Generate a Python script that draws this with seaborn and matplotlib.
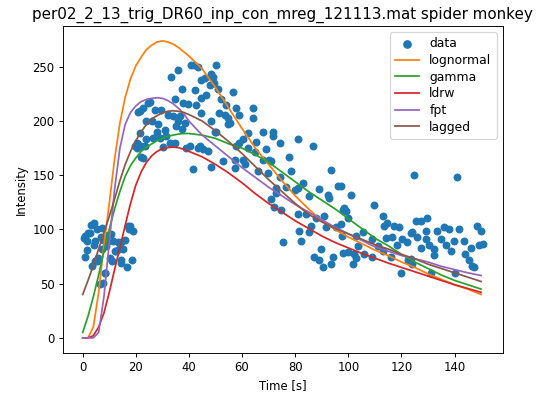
import matplotlib
matplotlib.use("Agg")
import matplotlib.pyplot as plt
import seaborn as sns
import pandas as pd

time_s = [0.6, 0.9, 0.9, 1.5, 1.6, 2.0, 2.8, 3.2, 3.4, 4.2, 4.4, 4.7, 4.8, 5.2, 5.3, 5.9,
          6.4, 6.8, 7.1, 7.2, 7.8, 7.8, 8.3, 8.4, 8.8, 9.2, 9.6, 10.2, 10.6, 11.1, 11.5,
          12.0, 12.7, 13.3, 13.5, 14.3, 14.6, 14.6, 15.2, 15.9, 16.5, 17.2, 17.6, 17.8,
          18.4, 19.0, 19.5, 20.3, 20.3, 20.9, 21.5, 21.5, 22.1, 22.1, 22.8, 22.8, 23.4,
          24.0, 24.0, 24.7, 25.3, 25.9, 26.5, 27.1, 27.8, 28.4, 29.0, 29.6, 30.2, 30.9,
          31.5, 32.2, 32.8, 33.4, 34.0, 34.6, 34.6, 35.3, 35.9, 35.9, 36.5, 37.2, 37.2,
          37.8, 38.4, 39.0, 39.6, 40.3, 40.9, 41.5, 41.8, 42.2, 42.8, 43.4, 43.4, 44.0,
          44.7, 44.7, 44.7, 45.3, 45.9, 46.5, 47.2, 47.8, 48.4, 48.4, 48.4, 49.0, 49.6,
          49.7, 50.3, 50.3, 50.9, 51.5, 52.2, 52.8, 53.4, 54.0, 54.7, 54.7, 55.3, 56.6,
          57.2, 57.4, 57.8, 57.8, 59.0, 59.0, 60.3, 60.3, 61.0, 62.2, 62.2, 64.1, 64.1,
          64.7, 65.3, 66.0, 67.8, 67.8, 69.0, 69.7, 70.3, 70.9, 70.9, 71.5, 71.6, 72.1,
          72.8, 72.8, 74.1, 74.1, 74.7, 75.3, 76.6, 77.6, 78.5, 79.9, 81.0, 81.0, 81.0,
          81.6, 82.2, 82.8, 84.1, 85.3, 85.3, 86.0, 86.6, 87.2, 87.8, 89.1, 89.1, 89.7,
          90.4, 91.0, 91.6, 92.2, 92.9, 93.5, 93.5, 94.1, 95.4, 96.0, 97.2, 97.3, 97.8,
          97.9, 97.9, 98.5, 99.1, 99.7, 99.7, 101.0, 101.6, 102.2, 102.9, 102.9, 103.5,
          105.4, 106.0, 109.0, 109.1, 109.7, 111.0, 112.9, 112.9, 113.4, 114.1, 114.7,
          116.0, 116.6, 117.2, 118.5, 119.0, 119.7, 120.4, 122.2, 122.3, 123.5, 123.5,
          124.1, 124.1, 124.7, 125.4, 126.0, 127.3, 127.3, 129.1, 129.1, 129.8, 130.3,
          131.0, 132.3, 132.3, 133.5, 134.8, 136.0, 136.6, 137.8, 138.5, 139.8, 140.3,
          141.0, 141.6, 143.5, 144.1, 145.4, 146.1, 146.6, 147.3, 148.5, 149.1, 150.0,
          150.6]
intensity = [92, 94, 75, 81, 89, 97, 97, 104, 66, 86, 106, 89, 71, 71, 100, 74,
             50, 93, 101, 82, 90, 51, 60, 60, 85, 88, 95, 74, 96, 71, 89,
             80, 80, 88, 82, 69, 88, 72, 82, 90, 65, 103, 100, 103,
             72, 99, 177, 180, 175, 208, 209, 189, 167, 177, 212, 166, 177,
             183, 200, 217, 218, 200, 184, 210, 190, 197, 184, 210, 176, 192,
             186, 206, 180, 241, 205, 220, 180, 195, 247, 200, 205, 230, 193,
             217, 198, 175, 216, 177, 252, 156, 252, 229, 215, 250, 175, 177,
             238, 221, 207, 174, 240, 224, 172, 233, 243, 158, 200, 241, 235,
             190, 252, 190, 230, 207, 220, 163, 206, 215, 203, 197, 198, 227,
             157, 164, 212, 177, 206, 180, 183, 164, 160, 189, 175, 212, 203,
             171, 181, 154, 190, 164, 174, 152, 164, 163, 128, 190, 186, 121,
             138, 134, 180, 148, 118, 88, 139, 167, 154, 136, 183, 138, 114,
             99, 89, 143, 114, 131, 98, 103, 177, 75, 111, 137, 72, 82,
             65, 112, 102, 132, 129, 155, 68, 75, 102, 140, 140, 105, 94,
             118, 78, 120, 117, 111, 79, 132, 68, 77, 94, 74, 85,
             98, 77, 75, 91, 123, 85, 112, 80, 103, 92, 106,
             75, 93, 103, 86, 102, 60, 91, 88, 72, 97, 73,
             98, 68, 150, 108, 93, 108, 83, 99, 91, 111, 86,
             60, 82, 76, 99, 91, 102, 86, 100, 80, 89, 60,
             148, 100, 89, 77, 72, 83, 66, 65, 103, 86, 99,
             87]

# ---- fitted model curves ----
fit_time = [0, 2, 4, 6, 8, 10, 12, 14, 16, 18, 20, 22, 24, 26, 28, 30, 32, 34, 36, 38, 40,
            45, 50, 55, 60, 65, 70, 75, 80, 85, 90, 95, 100, 105, 110, 115, 120, 125,
            130, 135, 140, 145, 150]
lognormal = [0, 0, 10, 42, 86, 124, 165, 198, 222, 239, 251, 259, 266, 270, 273, 274,
             273, 271, 268, 264, 260, 248, 231, 212, 193, 175, 160, 145, 131, 119, 108,
             100, 93, 87, 81, 76, 70, 65, 59, 54, 49, 45, 40]
gamma = [5, 20, 38, 58, 80, 100, 119, 135, 149, 159, 166, 172, 176, 179, 182, 184,
         186, 187, 188, 188.5, 188.5, 187, 184, 179, 175, 169, 162, 153, 144, 135, 127,
         119, 110, 101, 92, 85, 77, 70, 64, 58, 53, 49, 45]
ldrw = [0, 0, 2, 10, 23, 42, 63, 83, 104, 124, 141, 153, 162, 168, 172, 174.5, 175.5,
        176, 175.5, 174, 172, 167, 160, 152, 143, 133, 124, 116, 108, 101, 94, 88, 83,
        78, 73.5, 69, 65, 61, 57, 53, 49, 45.5, 42]
fpt = [0, 0, 0, 5, 38, 88, 137, 175, 197, 208, 214, 218, 220, 221, 221.5, 221, 219,
       216, 212, 207, 200, 187, 177, 167, 157, 148, 139, 131, 123, 116, 109, 102, 96,
       90, 84, 80, 76, 73, 70, 66, 63, 60, 57.5]
lagged = [40, 53, 67, 82, 97, 112, 128, 145, 160, 172, 182, 190, 197, 202, 205, 207.5,
          209, 209.5, 209, 208, 206, 200, 191, 181, 170, 158, 146, 135, 124, 114, 107,
          101, 96, 91, 86, 82, 77, 73, 68, 64, 60, 56, 52]

model_names = ["lognormal", "gamma", "ldrw", "fpt", "lagged"]
model_values = [lognormal, gamma, ldrw, fpt, lagged]
model_colors = ["C1", "C2", "C3", "C4", "C5"]

title = "per02_2_13_trig_DR60_inp_con_mreg_121113.mat spider monkey"

fig = plt.figure(figsize=(537 / 84, 398 / 84), dpi=84)
ax = fig.add_axes([0.1168, 0.1138, 0.8193, 0.8209])

data_df = pd.DataFrame({"Time": time_s, "Intensity": intensity})
sns.scatterplot(data=data_df, x="Time", y="Intensity", color="C0", s=46,
                linewidth=0, label="data", ax=ax, zorder=2)

for name, vals, col in zip(model_names, model_values, model_colors):
    sns.lineplot(x=fit_time, y=vals, color=col, label=name, ax=ax,
                 linewidth=1.5, zorder=3)

ax.set_xlabel("Time [s]")
ax.set_ylabel("Intensity")
ax.set_title(title, fontsize=13)
ax.legend(loc="upper right", fontsize=10.6, labelspacing=0.3, markerscale=1.1)

fig.savefig("out.png", dpi=84)
